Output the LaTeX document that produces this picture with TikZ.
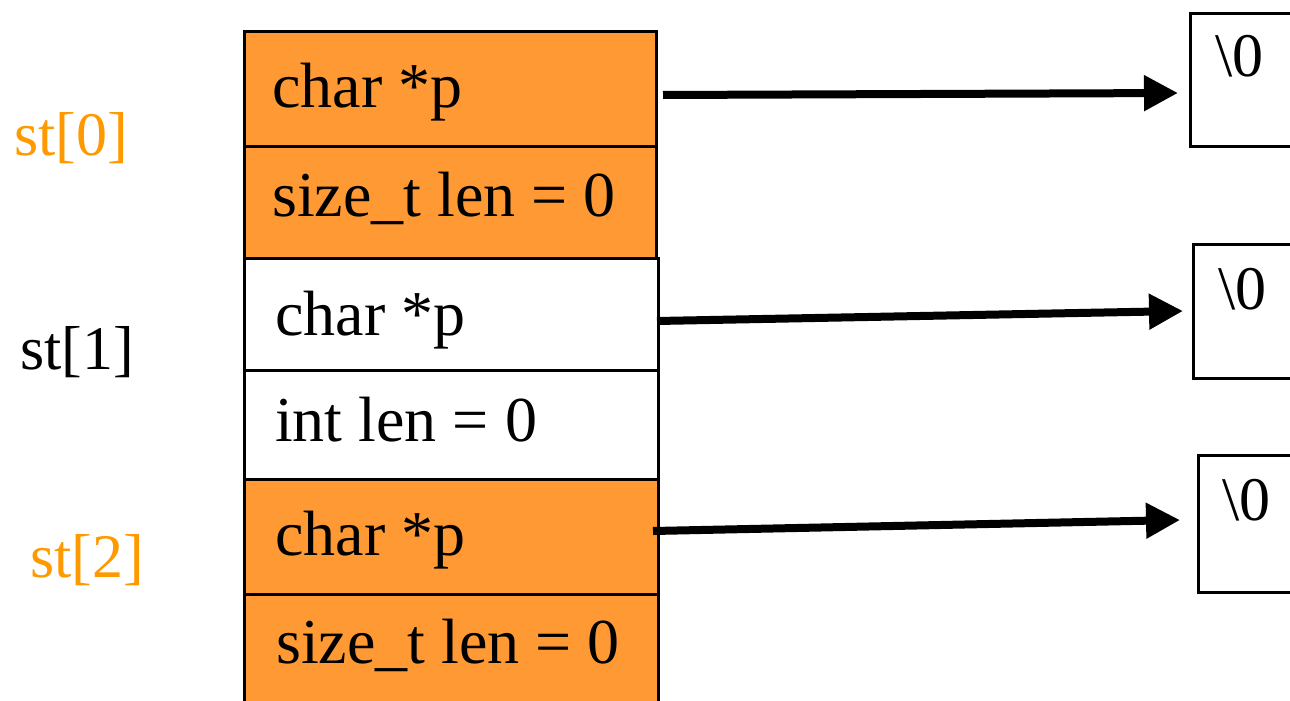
\documentclass[tikz,border=0pt]{standalone}
\usepackage{fontspec}
\setmainfont{Liberation Serif}
\usetikzlibrary{arrows.meta,calc}
\definecolor{cellorange}{RGB}{255,153,51}
\definecolor{labelorange}{RGB}{255,153,0}
\tikzset{
  cell/.style={draw=black, line width=3pt, inner sep=0pt, anchor=north west},
  field/.style={anchor=base west, inner sep=0pt, font=\fontsize{64}{70}\selectfont},
  idx/.style={anchor=base west, inner sep=0pt, font=\fontsize{62}{68}\selectfont},
  target/.style={draw=black, line width=3pt, fill=white, inner sep=0pt, anchor=north west},
  nul/.style={anchor=base west, inner sep=0pt, font=\fontsize{62}{68}\selectfont},
  ptr/.style={line width=8pt, -{Triangle[length=34pt,width=34pt]}}
}
\begin{document}
\begin{tikzpicture}[x=1pt,y=-1pt]
\useasboundingbox (0,0) rectangle (1290,701);

% struct array cells
\node[cell, fill=cellorange, minimum width=412pt, minimum height=115pt] (c1) at (243,30) {};
\node[cell, fill=cellorange, minimum width=412pt, minimum height=112pt] (c2) at (243,145) {};
\node[cell, fill=white, minimum width=414pt, minimum height=112pt] (c3) at (243,257) {};
\node[cell, fill=white, minimum width=414pt, minimum height=109pt] (c4) at (243,369) {};
\node[cell, fill=cellorange, minimum width=414pt, minimum height=115pt] (c5) at (243,478) {};
\node[cell, fill=cellorange, minimum width=414pt, minimum height=120pt] (c6) at (243,593) {};

% member texts
\node[field] (t1) at (272,107) {char *p};
\node[field] (t2) at (272,216) {size\_t len = 0};
\node[field] (t3) at (275,335) {char *p};
\node[field] (t4) at (275,441) {int len = 0};
\node[field] (t5) at (275,555) {char *p};
\node[field] (t6) at (276,663) {size\_t len = 0};

% element labels
\node[idx, text=labelorange] (l0) at (14,155) {st[0]};
\node[idx, text=black] (l1) at (20,369) {st[1]};
\node[idx, text=labelorange] (l2) at (30,577) {st[2]};

% pointed-to strings
\node[target, minimum width=160pt, minimum height=133pt] (b1) at (1189,12) {};
\node[target, minimum width=160pt, minimum height=134pt] (b2) at (1192,243) {};
\node[target, minimum width=160pt, minimum height=137pt] (b3) at (1197,454) {};
\node[nul] (z1) at (1215,77) {\textbackslash 0};
\node[nul] (z2) at (1218,309) {\textbackslash 0};
\node[nul] (z3) at (1222,520) {\textbackslash 0};

% pointer arrows
\coordinate (s1) at (663,95);
\coordinate (s2) at (657,321);
\coordinate (s3) at (653,531);
\coordinate (e1) at ($(b1.north west)+(-11,81)$);
\coordinate (e2) at ($(b2.north west)+(-9,68)$);
\coordinate (e3) at ($(b3.north west)+(-17,66)$);
\draw[ptr] (s1) -- (e1);
\draw[ptr] (s2) -- (e2);
\draw[ptr] (s3) -- (e3);
\end{tikzpicture}
\end{document}
